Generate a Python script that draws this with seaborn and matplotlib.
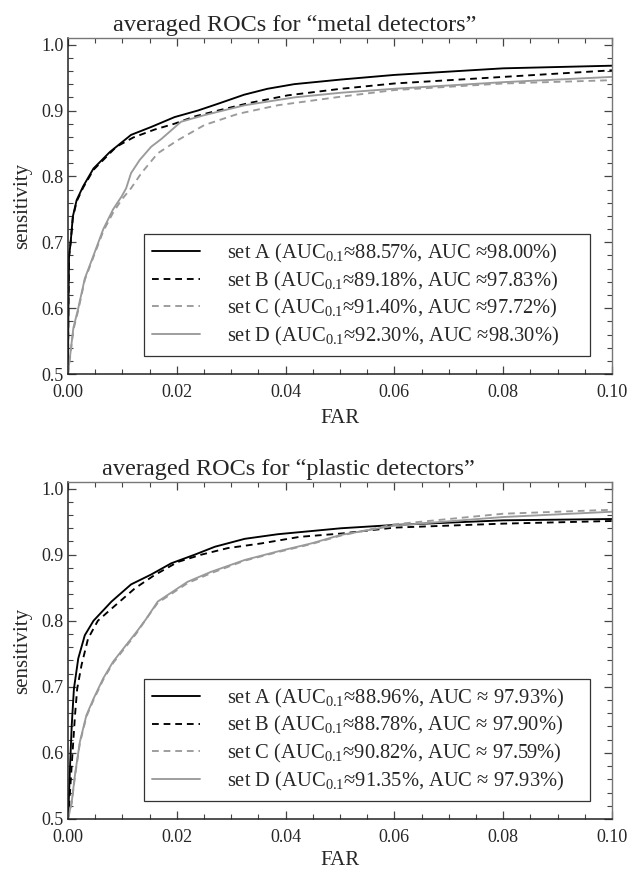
import numpy as np
import matplotlib
matplotlib.use("Agg")
import matplotlib.pyplot as plt
import pandas as pd
import seaborn as sns
from matplotlib.ticker import MultipleLocator, FormatStrFormatter

sns.set_style("ticks")
plt.rcParams["font.family"] = ["Liberation Serif", "DejaVu Serif"]
plt.rcParams["mathtext.fontset"] = "custom"
plt.rcParams["mathtext.rm"] = "Liberation Serif"

# curves (FAR, sensitivity)
metal_a_x = [0, 0.0001, 0.0002, 0.0005, 0.0009, 0.0016, 0.0028, 0.0047, 0.0077, 0.0116, 0.0153, 0.0196, 0.0239, 0.0275, 0.0324, 0.0367, 0.0416, 0.0502, 0.06, 0.08, 0.1]
metal_a_y = [0.5, 0.607, 0.678, 0.70, 0.739, 0.764, 0.785, 0.812, 0.837, 0.863, 0.875, 0.89, 0.90, 0.91, 0.924, 0.933, 0.94, 0.947, 0.954, 0.964, 0.968]
metal_b_x = [0, 0.0001, 0.0002, 0.0005, 0.0009, 0.0016, 0.0028, 0.0047, 0.0089, 0.012, 0.0159, 0.0196, 0.0233, 0.0276, 0.0331, 0.0404, 0.0502, 0.06, 0.08, 0.1]
metal_b_y = [0.5, 0.607, 0.678, 0.70, 0.737, 0.762, 0.783, 0.81, 0.845, 0.859, 0.871, 0.88, 0.891, 0.90, 0.911, 0.923, 0.933, 0.941, 0.951, 0.961]
metal_c_x = [0, 0.0004, 0.001, 0.0019, 0.0031, 0.0047, 0.0065, 0.0083, 0.0099, 0.0116, 0.0135, 0.0165, 0.0202, 0.0251, 0.0313, 0.0386, 0.0502, 0.06, 0.08, 0.1]
metal_c_y = [0.5, 0.526, 0.567, 0.597, 0.643, 0.678, 0.717, 0.745, 0.765, 0.782, 0.805, 0.835, 0.855, 0.878, 0.895, 0.908, 0.921, 0.931, 0.941, 0.946]
metal_d_x = [0, 0.0004, 0.001, 0.0019, 0.0031, 0.0047, 0.0065, 0.0083, 0.0099, 0.0107, 0.0116, 0.0132, 0.0153, 0.0172, 0.0208, 0.0251, 0.0325, 0.0417, 0.0502, 0.06, 0.08, 0.1]
metal_d_y = [0.5, 0.528, 0.57, 0.60, 0.645, 0.68, 0.72, 0.75, 0.77, 0.782, 0.805, 0.825, 0.845, 0.857, 0.883, 0.893, 0.908, 0.92, 0.927, 0.933, 0.943, 0.951]

plastic_a_x = [0, 0.0001, 0.0004, 0.0007, 0.0011, 0.0019, 0.0031, 0.0047, 0.008, 0.0116, 0.0153, 0.019, 0.0233, 0.027, 0.0325, 0.0386, 0.0502, 0.06, 0.08, 0.1]
plastic_a_y = [0.5, 0.516, 0.582, 0.642, 0.697, 0.743, 0.778, 0.80, 0.829, 0.855, 0.87, 0.887, 0.90, 0.912, 0.924, 0.931, 0.94, 0.945, 0.952, 0.954]
plastic_b_x = [0, 0.0003, 0.0007, 0.0013, 0.0017, 0.0025, 0.0037, 0.0055, 0.0077, 0.0123, 0.0159, 0.0202, 0.0245, 0.0294, 0.0355, 0.0426, 0.0502, 0.06, 0.08, 0.1]
plastic_b_y = [0.5, 0.53, 0.582, 0.657, 0.697, 0.733, 0.773, 0.80, 0.816, 0.849, 0.869, 0.889, 0.90, 0.91, 0.917, 0.927, 0.932, 0.941, 0.947, 0.951]
plastic_c_x = [0, 0.0007, 0.0013, 0.0022, 0.0034, 0.0047, 0.0065, 0.0083, 0.0102, 0.0126, 0.0144, 0.0165, 0.022, 0.0263, 0.0325, 0.0386, 0.0447, 0.0502, 0.06, 0.08, 0.1]
plastic_c_y = [0.5, 0.524, 0.565, 0.615, 0.655, 0.68, 0.711, 0.736, 0.756, 0.781, 0.803, 0.827, 0.857, 0.872, 0.891, 0.904, 0.916, 0.929, 0.946, 0.962, 0.968]
plastic_d_x = [0, 0.0007, 0.0013, 0.0022, 0.0034, 0.0047, 0.0065, 0.0083, 0.0102, 0.0126, 0.0144, 0.0165, 0.022, 0.0263, 0.0325, 0.0386, 0.0447, 0.0502, 0.06, 0.08, 0.1]
plastic_d_y = [0.5, 0.526, 0.567, 0.617, 0.657, 0.682, 0.713, 0.738, 0.758, 0.783, 0.803, 0.829, 0.859, 0.874, 0.892, 0.905, 0.917, 0.93, 0.944, 0.957, 0.965]

metal_labels = [
    "set A (AUC$_{\\mathrm{0.1}}$\u224888.57%, AUC \u224898.00%)",
    "set B (AUC$_{\\mathrm{0.1}}$\u224889.18%, AUC \u224897.83%)",
    "set C (AUC$_{\\mathrm{0.1}}$\u224891.40%, AUC \u224897.72%)",
    "set D (AUC$_{\\mathrm{0.1}}$\u224892.30%, AUC \u224898.30%)",
]
plastic_labels = [
    "set A (AUC$_{\\mathrm{0.1}}$\u224888.96%, AUC \u2248 97.93%)",
    "set B (AUC$_{\\mathrm{0.1}}$\u224888.78%, AUC \u2248 97.90%)",
    "set C (AUC$_{\\mathrm{0.1}}$\u224890.82%, AUC \u2248 97.59%)",
    "set D (AUC$_{\\mathrm{0.1}}$\u224891.35%, AUC \u2248 97.93%)",
]

dash = (0, (3.6, 2.6))
styles = [("black", "-"), ("black", dash), ("#9a9a9a", dash), ("#9a9a9a", "-")]

fig = plt.figure(figsize=(6.29, 8.74), dpi=100)
ax1 = fig.add_axes([0.108, 0.572, 0.865, 0.3845])
ax2 = fig.add_axes([0.108, 0.063, 0.865, 0.3855])


def draw(ax, xs, ys, labels, title, title_x, xpad):
    for x, y, lab, (col, ls) in zip(xs, ys, labels, styles):
        sns.lineplot(x=x, y=y, ax=ax, color=col, linestyle=ls, linewidth=1.35,
                     label=lab, estimator=None, sort=False)
    ax.set_xlim(0, 0.1)
    ax.set_ylim(0.5, 1.01)
    ax.xaxis.set_major_locator(MultipleLocator(0.02))
    ax.xaxis.set_minor_locator(MultipleLocator(0.005))
    ax.yaxis.set_major_locator(MultipleLocator(0.1))
    ax.yaxis.set_minor_locator(MultipleLocator(0.02))
    ax.xaxis.set_major_formatter(FormatStrFormatter("%.2f"))
    ax.yaxis.set_major_formatter(FormatStrFormatter("%.1f"))
    ax.tick_params(which="both", direction="in", top=True, right=True,
                   labelsize=13, color="#444444")
    ax.tick_params(axis="x", pad=7)
    ax.tick_params(axis="y", pad=3)
    ax.tick_params(which="major", length=6, width=0.9)
    ax.tick_params(which="minor", length=3.5, width=0.8)
    for side in ["left", "bottom"]:
        ax.spines[side].set_color("#222222")
        ax.spines[side].set_linewidth(1.1)
    for side in ["top", "right"]:
        ax.spines[side].set_color("#777777")
        ax.spines[side].set_linewidth(1.0)
    ax.set_xlabel("FAR", fontsize=15, labelpad=xpad)
    ax.set_ylabel("sensitivity", fontsize=15, labelpad=7)
    ax.set_title(title, fontsize=17.5, x=title_x, pad=5)
    leg = ax.legend(loc="lower left", bbox_to_anchor=(0.14, 0.054, 0.82, 0.356),
                    mode="expand", borderaxespad=0, fontsize=14.8, frameon=True,
                    fancybox=False, edgecolor="#333333", framealpha=1,
                    handlelength=2.3, handletextpad=1.35, labelspacing=0.22,
                    borderpad=0.4)
    leg.get_frame().set_linewidth(0.9)


draw(ax1, [metal_a_x, metal_b_x, metal_c_x, metal_d_x],
     [metal_a_y, metal_b_y, metal_c_y, metal_d_y], metal_labels,
     "averaged ROCs for \u201cmetal detectors\u201d", 0.417, 6)
draw(ax2, [plastic_a_x, plastic_b_x, plastic_c_x, plastic_d_x],
     [plastic_a_y, plastic_b_y, plastic_c_y, plastic_d_y], plastic_labels,
     "averaged ROCs for \u201cplastic detectors\u201d", 0.405, 4)

fig.savefig("out.png", dpi=100)
